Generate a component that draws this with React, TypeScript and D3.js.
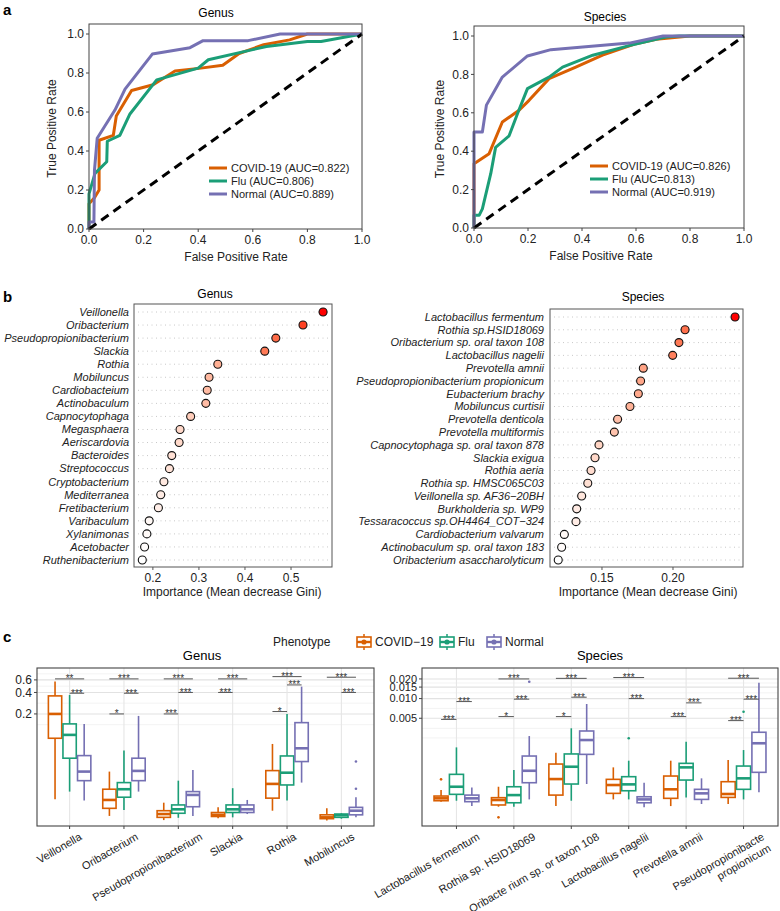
import React from 'react';
import * as d3 from 'd3';

const FONT = '"Liberation Sans", Arial, Helvetica, sans-serif';
const C_COVID = '#D95F02';
const C_FLU = '#1B9E77';
const C_NORMAL = '#7570B3';
const GROUP_COLORS = [C_COVID, C_FLU, C_NORMAL];
const GROUP_NAMES = ['COVID\u221219', 'Flu', 'Normal'];

// ---------- Panel a: ROC ----------
const rocTicks = [0, 0.2, 0.4, 0.6, 0.8, 1.0];
const genusCovidRoc: [number, number][] = [[0,0],[0,0.13],[0.02,0.16],[0.037,0.2],[0.037,0.455],[0.089,0.48],[0.1,0.58],[0.156,0.71],[0.235,0.74],[0.315,0.81],[0.41,0.825],[0.49,0.84],[0.55,0.9],[0.64,0.945],[0.735,0.97],[0.8,1],[1,1]];
const genusFluRoc: [number, number][] = [[0,0],[0,0.18],[0.022,0.285],[0.065,0.345],[0.067,0.45],[0.113,0.48],[0.15,0.59],[0.248,0.765],[0.4,0.825],[0.437,0.868],[0.6,0.92],[0.65,0.936],[0.8,0.962],[0.85,0.962],[1,1]];
const genusNormalRoc: [number, number][] = [[0,0],[0,0.036],[0.018,0.036],[0.02,0.3],[0.03,0.465],[0.095,0.61],[0.132,0.717],[0.232,0.897],[0.37,0.93],[0.418,0.966],[0.583,0.966],[0.7,1],[1,1]];
const speciesCovidRoc: [number, number][] = [[0,0],[0,0.335],[0.056,0.387],[0.105,0.552],[0.167,0.613],[0.204,0.665],[0.278,0.778],[0.377,0.838],[0.476,0.9],[0.6,0.96],[0.675,0.983],[0.8,1],[1,1]];
const speciesFluRoc: [number, number][] = [[0,0],[0,0.066],[0.019,0.066],[0.031,0.1],[0.062,0.283],[0.08,0.42],[0.13,0.48],[0.161,0.595],[0.198,0.726],[0.278,0.786],[0.328,0.838],[0.44,0.9],[0.575,0.95],[0.71,0.995],[0.76,1],[1,1]];
const speciesNormalRoc: [number, number][] = [[0,0],[0,0.5],[0.031,0.5],[0.046,0.64],[0.105,0.786],[0.198,0.896],[0.285,0.929],[0.575,0.963],[0.7,1],[1,1]];
const genusAuc = ['COVID-19 (AUC=0.822)', 'Flu (AUC=0.806)', 'Normal (AUC=0.889)'];
const speciesAuc = ['COVID-19 (AUC=0.826)', 'Flu (AUC=0.813)', 'Normal (AUC=0.919)'];

// ---------- Panel b: importance ----------
const genusImpNames = ['Veillonella','Oribacterium','Pseudopropionibacterium','Slackia','Rothia','Mobiluncus','Cardiobacteium','Actinobaculum','Capnocytophaga','Megasphaera','Aeriscardovia','Bacteroides','Streptococcus','Cryptobacterium','Mediterranea','Fretibacterium','Varibaculum','Xylanimonas','Acetobacter','Ruthenibacterium'];
const genusImpValues = [0.5696,0.526,0.467,0.443,0.341,0.322,0.318,0.315,0.282,0.259,0.257,0.241,0.236,0.224,0.217,0.212,0.192,0.187,0.182,0.177];
const genusImpTicks = [0.2, 0.3, 0.4, 0.5];
const speciesImpNames = ['Lactobacillus fermentum','Rothia sp.HSID18069','Oribacterium sp. oral taxon 108','Lactobacillus nagelii','Prevotella amnii','Pseudopropionibacterium propionicum','Eubacterium brachy','Mobiluncus curtisii','Prevotella denticola','Prevotella multiformis','Capnocytophaga sp. oral taxon 878','Slackia exigua','Rothia aeria','Rothia sp. HMSC065C03','Veillonella sp. AF36\u221220BH','Burkholderia sp. WP9','Tessaracoccus sp.OH4464_COT\u2212324','Cardiobacterium valvarum','Actinobaculum sp. oral taxon 183','Oribacterium asaccharolyticum'];
const speciesImpValues = [0.2437,0.2085,0.2042,0.1998,0.1791,0.1772,0.1756,0.1697,0.161,0.1587,0.1479,0.1451,0.1423,0.14,0.1357,0.1322,0.1317,0.1235,0.1216,0.1192];
const speciesImpTicks = [0.15, 0.20];

// ---------- Panel c: boxplots ([min, q1, median, q3, max]) ----------
const genusCats = ['Veillonella','Oribacterium','Pseudopropionibacterium','Slackia','Rothia','Mobiluncus'];
const genusCovidBox = [[0.0127,0.0912,0.2,0.358,0.568],[0.00743,0.0095,0.01245,0.0176,0.0311],[0.0065,0.0071,0.0079,0.0088,0.0114],[0.0069,0.0073,0.0077,0.0083,0.0098],[0.0088,0.0132,0.0209,0.0321,0.0759],[0.0064,0.0068,0.0071,0.0077,0.0095]];
const genusFluBox = [[0.0163,0.0479,0.1017,0.145,0.37],[0.009,0.0136,0.0176,0.0218,0.0613],[0.007,0.0081,0.0092,0.0106,0.0232],[0.0071,0.0083,0.0092,0.0106,0.0182],[0.0122,0.0202,0.03,0.0515,0.2],[0.0068,0.0071,0.0076,0.0079,0.0081]];
const genusNormalBox = [[0.0122,0.0232,0.0311,0.0521,0.145],[0.0163,0.0232,0.0318,0.0479,0.1876],[0.0074,0.01,0.01464,0.0163,0.0328],[0.0079,0.0083,0.0092,0.0106,0.01245],[0.0218,0.043,0.066,0.151,0.483],[0.0071,0.0077,0.0088,0.0098,0.0136]];
// outliers: [category, group, value]
const genusOutliers = [[5,2,0.043],[5,2,0.0179]];
const genusTicks = [0.2, 0.4, 0.6];
const genusMinor = [0.1414, 0.283, 0.49, 0.73];
// significance: [category, fromGroup, toGroup, y, label]
const genusSig: [number, number, number, number, string][] = [
  [0,0,2,0.62,'**'],[0,1,2,0.39,'***'],
  [1,0,2,0.62,'***'],[1,1,2,0.39,'***'],[1,0,1,0.2,'*'],
  [2,0,2,0.62,'***'],[2,1,2,0.40,'***'],[2,0,1,0.2,'***'],
  [3,0,2,0.62,'***'],[3,0,1,0.40,'***'],
  [4,0,2,0.667,'***'],[4,1,2,0.51,'***'],[4,0,1,0.216,'*'],
  [5,0,2,0.654,'***'],[5,1,2,0.40,'***'],
];

const speciesCats = ['Lactobacillus fermentum','Rothia sp. HSID18069','Oribacte rium sp. or taxon 108','Lactobacillus nagelii','Prevotella amnii','Pseudopropionibacte\npropionicum'];
const speciesCovidBox = [[0.000264,0.000273,0.000297,0.000322,0.000398],[0.000221,0.000235,0.00028,0.000304,0.000447],[0.000226,0.000333,0.000586,0.000995,0.00148],[0.000286,0.000354,0.000475,0.00058,0.000885],[0.000226,0.000297,0.000408,0.000652,0.00112],[0.000243,0.000307,0.000346,0.000534,0.00115]];
const speciesFluBox = [[0.000273,0.000342,0.000447,0.000692,0.00179],[0.000221,0.000254,0.000333,0.000447,0.000805],[0.000273,0.000492,0.000905,0.00142,0.00351],[0.000286,0.000388,0.000486,0.000637,0.00112],[0.000307,0.000566,0.000885,0.00102,0.00219],[0.000286,0.000408,0.000601,0.000927,0.00163]];
const speciesNormalBox = [[0.000226,0.000264,0.000297,0.000333,0.000437],[0.000286,0.000515,0.000785,0.00132,0.00267],[0.000492,0.0014,0.00232,0.00319,0.00826],[0.000216,0.000254,0.000286,0.000314,0.000515],[0.000243,0.000286,0.000354,0.000408,0.000601],[0.000367,0.000743,0.00207,0.00305,0.0175]];
const speciesOutliers = [[0,0,0.00058],[1,0,0.000152],[1,2,0.0181],[3,1,0.00247],[5,1,0.0063]];
const speciesTicks = [0.005, 0.010, 0.015, 0.020];
const speciesMinor = [0.0025, 0.0035, 0.00707, 0.01225, 0.0173];
const speciesSig: [number, number, number, number, string][] = [
  [0,0,1,0.0048,'***'],[0,1,2,0.009,'***'],
  [1,0,2,0.02,'***'],[1,1,2,0.0098,'***'],[1,0,1,0.0053,'*'],
  [2,0,2,0.0204,'***'],[2,1,2,0.0105,'***'],[2,0,1,0.0053,'*'],
  [3,0,2,0.021,'***'],[3,1,2,0.01,'***'],
  [4,1,2,0.0086,'***'],[4,0,1,0.0053,'***'],
  [5,0,2,0.0205,'***'],[5,1,2,0.0098,'***'],[5,0,1,0.0046,'***'],
];

// ---------- helpers ----------
let canvasCtx: CanvasRenderingContext2D | null = null;
function textWidth(s: string, size: number) {
  if (!canvasCtx) {
    const c = document.createElement('canvas');
    canvasCtx = c.getContext('2d');
  }
  if (!canvasCtx) return s.length * size * 0.5;
  canvasCtx.font = `${size}px ${FONT}`;
  return canvasCtx.measureText(s).width;
}

type RocProps = {
  left: number; right: number; top: number; bottom: number; yOne: number;
  title: string; titleX: number; titleY: number; xTitleX: number; yTitleX: number;
  series: [number, number][][]; labels: string[];
  legendX: number; legendY: number;
};

function RocPanel(p: RocProps) {
  const x = d3.scaleLinear().domain([0, 1]).range([p.left, p.right]);
  const y = d3.scaleLinear().domain([0, 1]).range([p.bottom, p.yOne]);
  const line = d3.line<[number, number]>().x(d => x(d[0])).y(d => y(d[1]));
  const colors = [C_COVID, C_FLU, C_NORMAL];
  return (
    <g fontFamily={FONT}>
      <text x={p.titleX} y={p.titleY} textAnchor="middle" fontSize={12} dy="0.35em">{p.title}</text>
      {p.series.map((s, i) => (
        <path key={i} d={line(s) || ''} fill="none" stroke={colors[i]} strokeWidth={3} strokeLinejoin="round" />
      ))}
      <line x1={x(0)} y1={y(0)} x2={x(1)} y2={y(1)} stroke="#000" strokeWidth={3} strokeDasharray="9,6" />
      <rect x={p.left} y={p.top} width={p.right - p.left} height={p.bottom - p.top} fill="none" stroke="#444" strokeWidth={1} />
      {rocTicks.map(t => (
        <g key={'x' + t}>
          <line x1={x(t)} x2={x(t)} y1={p.bottom} y2={p.bottom + 3} stroke="#444" />
          <text x={x(t)} y={p.bottom + 11} textAnchor="middle" fontSize={12} dy="0.35em" fill="#222">{t.toFixed(1)}</text>
        </g>
      ))}
      {rocTicks.map(t => (
        <g key={'y' + t}>
          <line x1={p.left - 3} x2={p.left} y1={y(t)} y2={y(t)} stroke="#444" />
          <text x={p.left - 5} y={y(t)} textAnchor="end" fontSize={12} dy="0.35em" fill="#222">{t.toFixed(1)}</text>
        </g>
      ))}
      <text x={p.xTitleX} y={p.bottom + 28} textAnchor="middle" fontSize={12} dy="0.35em" fill="#222">False Positive Rate</text>
      <text transform={`translate(${p.yTitleX},${(p.top + p.bottom) / 2 + 2}) rotate(-90)`} textAnchor="middle" fontSize={12} dy="0.35em" fill="#222">True Positive Rate</text>
      {p.labels.map((l, i) => (
        <g key={l}>
          <line x1={p.legendX} x2={p.legendX + 18} y1={p.legendY + i * 13} y2={p.legendY + i * 13} stroke={colors[i]} strokeWidth={3} />
          <text x={p.legendX + 22} y={p.legendY + i * 13} fontSize={11} dy="0.35em" fill="#222">{l}</text>
        </g>
      ))}
    </g>
  );
}

type ImpProps = {
  names: string[]; values: number[]; ticks: number[]; domain: [number, number];
  left: number; right: number; top: number; bottom: number; rowTop: number; rowBottom: number;
  title: string; titleX: number; titleY: number; xTitleX: number; labelX: number; tickFmt: (v: number) => string;
};

function ImpPanel(p: ImpProps) {
  const x = d3.scaleLinear().domain(p.domain).range([p.left, p.right]);
  const y = d3.scalePoint<string>().domain(p.names).range([p.rowTop, p.rowBottom]);
  const ext = d3.extent(p.values) as [number, number];
  const col = d3.scaleLinear<string>().domain(ext).range(['#ffffff', '#ff0000']).interpolate(d3.interpolateLab);
  return (
    <g fontFamily={FONT}>
      <text x={p.titleX} y={p.titleY} textAnchor="middle" fontSize={12} dy="0.35em">{p.title}</text>
      {p.names.map(n => (
        <line key={'g' + n} x1={p.left + 4} x2={p.right - 2} y1={y(n)} y2={y(n)} stroke="#c8c8c8" strokeWidth={1} strokeDasharray="1,3.5" />
      ))}
      <rect x={p.left} y={p.top} width={p.right - p.left} height={p.bottom - p.top} fill="none" stroke="#555" strokeWidth={1} />
      {p.names.map((n, i) => (
        <g key={n}>
          <text x={p.labelX} y={y(n)} textAnchor="end" fontSize={11} fontStyle="italic" dy="0.35em" fill="#222">{n}</text>
          <circle cx={x(p.values[i])} cy={y(n)} r={4} fill={col(p.values[i])} stroke="#111" strokeWidth={1.1} />
        </g>
      ))}
      {p.ticks.map(t => (
        <g key={'t' + t}>
          <line x1={x(t)} x2={x(t)} y1={p.bottom} y2={p.bottom + 3} stroke="#555" />
          <text x={x(t)} y={p.bottom + 11} textAnchor="middle" fontSize={12} dy="0.35em" fill="#222">{p.tickFmt(t)}</text>
        </g>
      ))}
      <text x={p.xTitleX} y={p.bottom + 25} textAnchor="middle" fontSize={12} dy="0.35em" fill="#222">Importance (Mean decrease Gini)</text>
    </g>
  );
}

type BoxProps = {
  cats: string[]; boxes: number[][][]; outliers: number[][]; sig: [number, number, number, number, string][];
  domain: [number, number]; ticks: number[]; minor: number[]; tickFmt: (v: number) => string; tickSize: number;
  left: number; right: number; top: number; bottom: number; title: string; titleX: number;
};

function BoxPanel(p: BoxProps) {
  const x = d3.scalePoint<string>().domain(p.cats).range([p.left, p.right]).padding(0.6);
  const step = x.step();
  const dodge = step * 0.268;
  const bw = step * 0.245;
  const y = d3.scaleLog().domain(p.domain).range([p.bottom, p.top]);
  const gx = (ci: number, g: number) => (x(p.cats[ci]) as number) + (g - 1) * dodge;
  return (
    <g fontFamily={FONT}>
      <text x={p.titleX} y={655} textAnchor="middle" fontSize={13} dy="0.35em">{p.title}</text>
      <rect x={p.left} y={p.top} width={p.right - p.left} height={p.bottom - p.top} fill="#fff" />
      {p.minor.map(t => (
        <line key={'m' + t} x1={p.left} x2={p.right} y1={y(t)} y2={y(t)} stroke="#f0f0f0" strokeWidth={0.8} />
      ))}
      {p.ticks.map(t => (
        <line key={'M' + t} x1={p.left} x2={p.right} y1={y(t)} y2={y(t)} stroke="#e2e2e2" strokeWidth={1.1} />
      ))}
      {p.cats.map(c => (
        <line key={'v' + c} x1={x(c)} x2={x(c)} y1={p.top} y2={p.bottom} stroke="#e6e6e6" strokeWidth={1.1} />
      ))}
      {p.boxes.map((grp, g) => grp.map((b, ci) => {
        const cx = gx(ci, g);
        const col = GROUP_COLORS[g];
        return (
          <g key={g + '-' + ci}>
            <line x1={cx} x2={cx} y1={y(b[3])} y2={y(b[4])} stroke={col} strokeWidth={1.6} />
            <line x1={cx} x2={cx} y1={y(b[1])} y2={y(b[0])} stroke={col} strokeWidth={1.6} />
            <rect x={cx - bw / 2} y={y(b[3])} width={bw} height={Math.max(1.5, y(b[1]) - y(b[3]))} fill="#fff" stroke={col} strokeWidth={1.6} />
            <line x1={cx - bw / 2} x2={cx + bw / 2} y1={y(b[2])} y2={y(b[2])} stroke={col} strokeWidth={2.6} />
          </g>
        );
      }))}
      {p.outliers.map((o, i) => (
        <circle key={'o' + i} cx={gx(o[0], o[1])} cy={y(o[2])} r={1.3} fill={GROUP_COLORS[o[1]]} />
      ))}
      {p.sig.map((s, i) => {
        const x1 = gx(s[0], s[1]);
        const x2 = gx(s[0], s[2]);
        const yy = y(s[3]);
        return (
          <g key={'s' + i}>
            <line x1={x1} x2={x2} y1={yy} y2={yy} stroke="#555" strokeWidth={1} />
            <text x={(x1 + x2) / 2} y={yy + 3.5} textAnchor="middle" fontSize={10} fill="#333">{s[4]}</text>
          </g>
        );
      })}
      <rect x={p.left} y={p.top} width={p.right - p.left} height={p.bottom - p.top} fill="none" stroke="#444" strokeWidth={1.1} />
      {p.ticks.map(t => (
        <g key={'yt' + t}>
          <line x1={p.left - 3} x2={p.left} y1={y(t)} y2={y(t)} stroke="#444" />
          <text x={p.left - 5} y={y(t)} textAnchor="end" fontSize={p.tickSize} dy="0.35em" fill="#222">{p.tickFmt(t)}</text>
        </g>
      ))}
      {p.cats.map(c => {
        const cx = x(c) as number;
        const lines = c.split('\n');
        const len = textWidth(lines[0], 11);
        const ax = cx + 5 + 0.16 * len;
        return (
          <g key={'xl' + c}>
            <line x1={cx} x2={cx} y1={p.bottom} y2={p.bottom + 3} stroke="#444" />
            <text transform={`translate(${ax},${p.bottom + 13}) rotate(-30)`} textAnchor="end" fontSize={11} fill="#222">
              {lines.map((l, i) => (
                <tspan key={i} x={0} dy={i === 0 ? 0 : '1.2em'}>{l}</tspan>
              ))}
            </text>
          </g>
        );
      })}
    </g>
  );
}

function LegendKey({ x, y, color }: { x: number; y: number; color: string }) {
  return (
    <g>
      <line x1={x + 7} x2={x + 7} y1={y - 8} y2={y + 8} stroke={color} strokeWidth={1.5} />
      <rect x={x} y={y - 5} width={14} height={10} fill="#fff" stroke={color} strokeWidth={1.6} />
      <line x1={x} x2={x + 14} y1={y} y2={y} stroke={color} strokeWidth={2.4} />
      <circle cx={x + 7} cy={y} r={2.6} fill={color} />
    </g>
  );
}

export default function App() {
  const fmt1 = (v: number) => v.toFixed(1);
  const fmt2 = (v: number) => v.toFixed(2);
  const fmt3 = (v: number) => v.toFixed(3);
  const legendKeyX = [357, 440, 487];
  const legendTextX = [375, 458, 505];
  return (
    <svg width={780} height={911} style={{ position: 'absolute', left: 0, top: 0, background: '#fff' }}>
      <rect x={0} y={0} width={780} height={911} fill="#fff" />
      <g fontFamily={FONT} fontWeight="bold" fontSize={15}>
        <text x={3} y={15}>a</text>
        <text x={3} y={302}>b</text>
        <text x={3} y={642}>c</text>
      </g>
      <RocPanel left={89} right={362} top={24} bottom={229} yOne={34} title="Genus" titleX={216} titleY={13}
        xTitleX={236} yTitleX={52} series={[genusCovidRoc, genusFluRoc, genusNormalRoc]} labels={genusAuc}
        legendX={209} legendY={168} />
      <RocPanel left={474} right={744} top={26} bottom={228} yOne={36} title="Species" titleX={605} titleY={17}
        xTitleX={601} yTitleX={440} series={[speciesCovidRoc, speciesFluRoc, speciesNormalRoc]} labels={speciesAuc}
        legendX={590} legendY={166} />
      <ImpPanel names={genusImpNames} values={genusImpValues} ticks={genusImpTicks} domain={[0.159, 0.589]}
        left={134} right={332} top={304} bottom={567} rowTop={312} rowBottom={560}
        title="Genus" titleX={215} titleY={294} xTitleX={232} labelX={129} tickFmt={fmt1} />
      <ImpPanel names={speciesImpNames} values={speciesImpValues} ticks={speciesImpTicks} domain={[0.1134, 0.2493]}
        left={550} right={743} top={309} bottom={567} rowTop={317} rowBottom={560}
        title="Species" titleX={643} titleY={297} xTitleX={648} labelX={544} tickFmt={fmt2} />
      <g fontFamily={FONT} fontSize={12}>
        <text x={273} y={642} dy="0.35em" fill="#222">Phenotype</text>
        {GROUP_NAMES.map((n, i) => (
          <g key={n}>
            <LegendKey x={legendKeyX[i]} y={642} color={GROUP_COLORS[i]} />
            <text x={legendTextX[i]} y={642} dy="0.35em" fill="#222">{n}</text>
          </g>
        ))}
      </g>
      <BoxPanel cats={genusCats} boxes={[genusCovidBox, genusFluBox, genusNormalBox]} outliers={genusOutliers}
        sig={genusSig} domain={[0.00537, 0.881]} ticks={genusTicks} minor={genusMinor} tickFmt={fmt1} tickSize={12}
        left={37} right={374} top={668} bottom={826} title="Genus" titleX={202} />
      <BoxPanel cats={speciesCats} boxes={[speciesCovidBox, speciesFluBox, speciesNormalBox]} outliers={speciesOutliers}
        sig={speciesSig} domain={[0.000112, 0.0294]} ticks={speciesTicks} minor={speciesMinor} tickFmt={fmt3} tickSize={11}
        left={422} right={778} top={668} bottom={826} title="Species" titleX={600} />
    </svg>
  );
}
